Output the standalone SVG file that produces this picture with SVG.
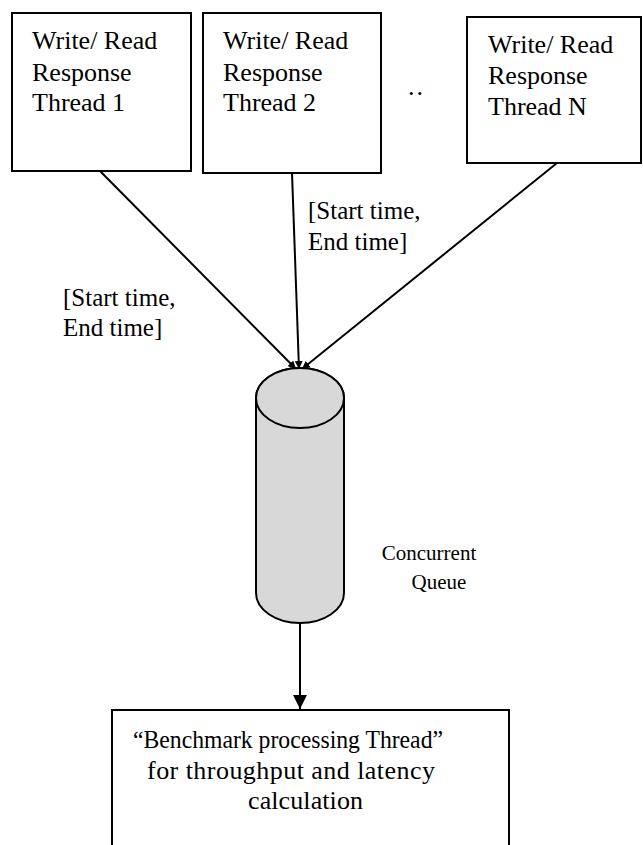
<svg xmlns="http://www.w3.org/2000/svg" width="643" height="845" viewBox="0 0 643 845">
  <style>
    .box { fill: #ffffff; stroke: #000000; stroke-width: 2; }
    .txt { font-family: "Liberation Serif", "Times New Roman", serif; font-size: 26px; fill: #000000; }
    .lbl { font-family: "Liberation Serif", "Times New Roman", serif; font-size: 25px; fill: #000000; }
    .small { font-family: "Liberation Serif", "Times New Roman", serif; font-size: 21px; fill: #000000; }
    .mid { text-anchor: middle; }
    .edge { stroke: #000000; stroke-width: 2; fill: none; }
    .cyl { fill: #d8d8d8; stroke: #000000; stroke-width: 2; }
  </style>
  <defs>
    <marker id="arrow" viewBox="0 0 10 10" refX="10" refY="5" markerWidth="8" markerHeight="8" markerUnits="userSpaceOnUse" orient="auto">
      <path d="M0,0 L10,5 L0,10 z" fill="#000000"/>
    </marker>
    <marker id="arrowBig" viewBox="0 0 10 10" refX="10" refY="5" markerWidth="14" markerHeight="15" markerUnits="userSpaceOnUse" orient="auto">
      <path d="M0,0 L10,5 L0,10 z" fill="#000000"/>
    </marker>
  </defs>

  <!-- connectors -->
  <g id="connectors">
    <line class="edge" x1="100" y1="171" x2="296" y2="369" marker-end="url(#arrow)"/>
    <line class="edge" x1="292" y1="173" x2="299" y2="369" marker-end="url(#arrow)"/>
    <line class="edge" x1="557" y1="163" x2="302" y2="369" marker-end="url(#arrow)"/>
    <line class="edge" x1="300" y1="623" x2="300" y2="709" marker-end="url(#arrowBig)"/>
    <text class="lbl" x="63" y="306">[Start time,</text>
    <text class="lbl" x="63" y="336">End time]</text>
    <text class="lbl" x="308" y="219">[Start time,</text>
    <text class="lbl" x="308" y="250">End time]</text>
  </g>

  <!-- worker threads -->
  <g id="thread1">
    <rect class="box" x="12" y="13" width="179" height="158"/>
    <text class="txt" x="32" y="49">Write/ Read</text>
    <text class="txt" x="32" y="81">Response</text>
    <text class="txt" x="32" y="111">Thread 1</text>
  </g>
  <g id="thread2">
    <rect class="box" x="203" y="13" width="178" height="160"/>
    <text class="txt" x="223" y="49">Write/ Read</text>
    <text class="txt" x="223" y="81">Response</text>
    <text class="txt" x="223" y="111">Thread 2</text>
  </g>
  <g id="ellipsis">
    <text class="txt" x="408" y="95" letter-spacing="2">..</text>
  </g>
  <g id="threadN">
    <rect class="box" x="467" y="17" width="174" height="146"/>
    <text class="txt" x="488" y="53">Write/ Read</text>
    <text class="txt" x="488" y="84">Response</text>
    <text class="txt" x="488" y="115">Thread N</text>
  </g>

  <!-- concurrent queue -->
  <g id="queue">
    <path class="cyl" d="M256,398 L256,593 A44,30 0 0 0 344,593 L344,398 A44,30 0 0 0 256,398 z"/>
    <ellipse class="cyl" cx="300" cy="398" rx="44" ry="30"/>
    <text class="small mid" x="429" y="560">Concurrent</text>
    <text class="small mid" x="439" y="589">Queue</text>
  </g>

  <!-- benchmark processing -->
  <g id="benchmark">
    <rect class="box" x="112" y="710" width="397" height="160"/>
    <text class="txt" x="133" y="748" textLength="310" lengthAdjust="spacingAndGlyphs">“Benchmark processing Thread”</text>
    <text class="txt" x="147" y="779" textLength="288">for throughput and latency</text>
    <text class="txt" x="248" y="809" textLength="115">calculation</text>
  </g>
</svg>
